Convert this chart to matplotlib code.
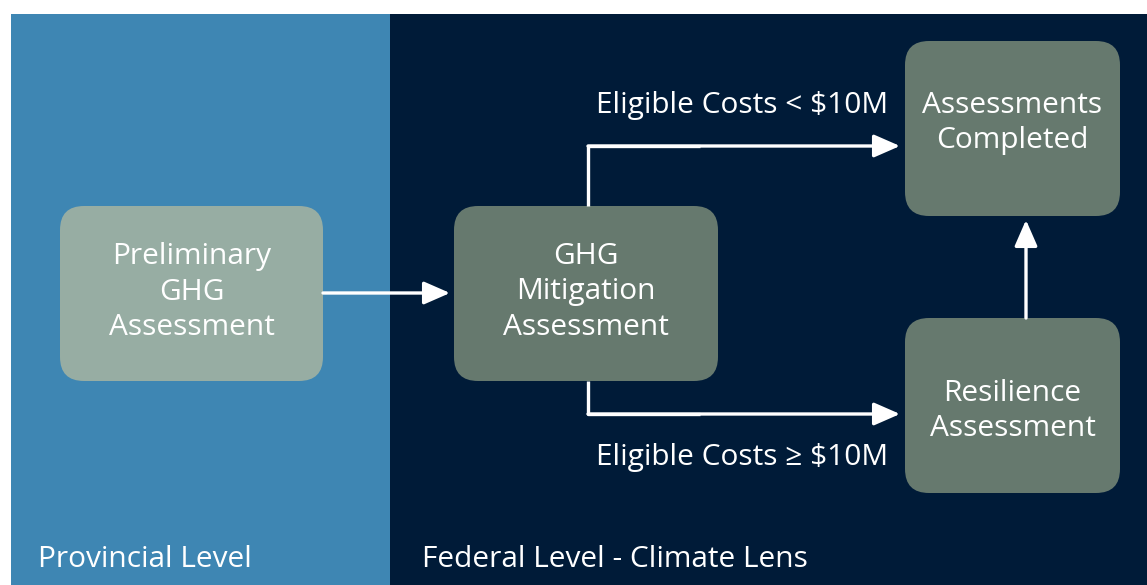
import matplotlib.pyplot as plt
from matplotlib.patches import FancyBboxPatch, Rectangle

plt.rcParams['font.family'] = ['Open Sans', 'DejaVu Sans']

# diagram content
panel_labels = ["Provincial Level", "Federal Level - Climate Lens"]
box_labels = [
    "Preliminary\nGHG\nAssessment",
    "GHG\nMitigation\nAssessment",
    "Assessments\nCompleted",
    "Resilience\nAssessment",
]
branch_labels = ["Eligible Costs < $10M", "Eligible Costs \u2265 $10M"]

# layout (pixel space)
BLUE = "#3e86b3"
NAVY = "#001b38"
LIGHT_BOX = "#97ada3"
DARK_BOX = "#66796e"

box_pos = [(60, 206, 263, 175), (454, 206, 264, 175),
           (905, 41, 215, 175), (905, 318, 215, 175)]
box_colors = [LIGHT_BOX, DARK_BOX, DARK_BOX, DARK_BOX]
text_y = [292, 292, 123, 411]

FS = 21.5

fig = plt.figure(figsize=(11.47, 5.85), dpi=100)
ax = fig.add_axes([0, 0, 1, 1])
ax.set_xlim(0, 1147)
ax.set_ylim(585, 0)
ax.axis("off")

ax.add_patch(Rectangle((11, 14), 379, 580, color=BLUE, lw=0))
ax.add_patch(Rectangle((390, 14), 760, 580, color=NAVY, lw=0))

r = 24
for (x, y, w, h), c, lab, ty in zip(box_pos, box_colors, box_labels, text_y):
    ax.add_patch(FancyBboxPatch((x + r, y + r), w - 2 * r, h - 2 * r,
                                boxstyle=f"round,pad={r}", fc=c, ec="none",
                                mutation_aspect=1))
    ax.text(x + w / 2, ty, lab, color="white", fontsize=FS,
            ha="center", va="center", linespacing=1.28)

line_kw = dict(color="white", lw=2.4, solid_capstyle="butt")
arrow_kw = dict(arrowstyle="-|>,head_length=1.6,head_width=0.7",
                color="white", lw=2.4, shrinkA=0, shrinkB=0)


def arrow(x0, y0, x1, y1):
    ax.annotate("", xy=(x1, y1), xytext=(x0, y0), arrowprops=arrow_kw)


# preliminary -> mitigation
arrow(323, 293, 450, 293)
# top branch
ax.plot([588, 588, 700], [206, 146, 146], **line_kw)
arrow(588, 146, 900, 146)
# bottom branch
ax.plot([588, 588, 700], [381, 414, 414], **line_kw)
arrow(588, 414, 900, 414)
# resilience -> completed
arrow(1026, 318, 1026, 220)

ax.text(888, 113, branch_labels[0], color="white", fontsize=FS,
        ha="right", va="baseline")
ax.text(888, 465, branch_labels[1], color="white", fontsize=FS,
        ha="right", va="baseline")

ax.text(38, 567, panel_labels[0], color="white", fontsize=FS,
        ha="left", va="baseline")
ax.text(422, 567, panel_labels[1], color="white", fontsize=FS,
        ha="left", va="baseline")

fig.savefig("out.png", dpi=100, facecolor="white")
